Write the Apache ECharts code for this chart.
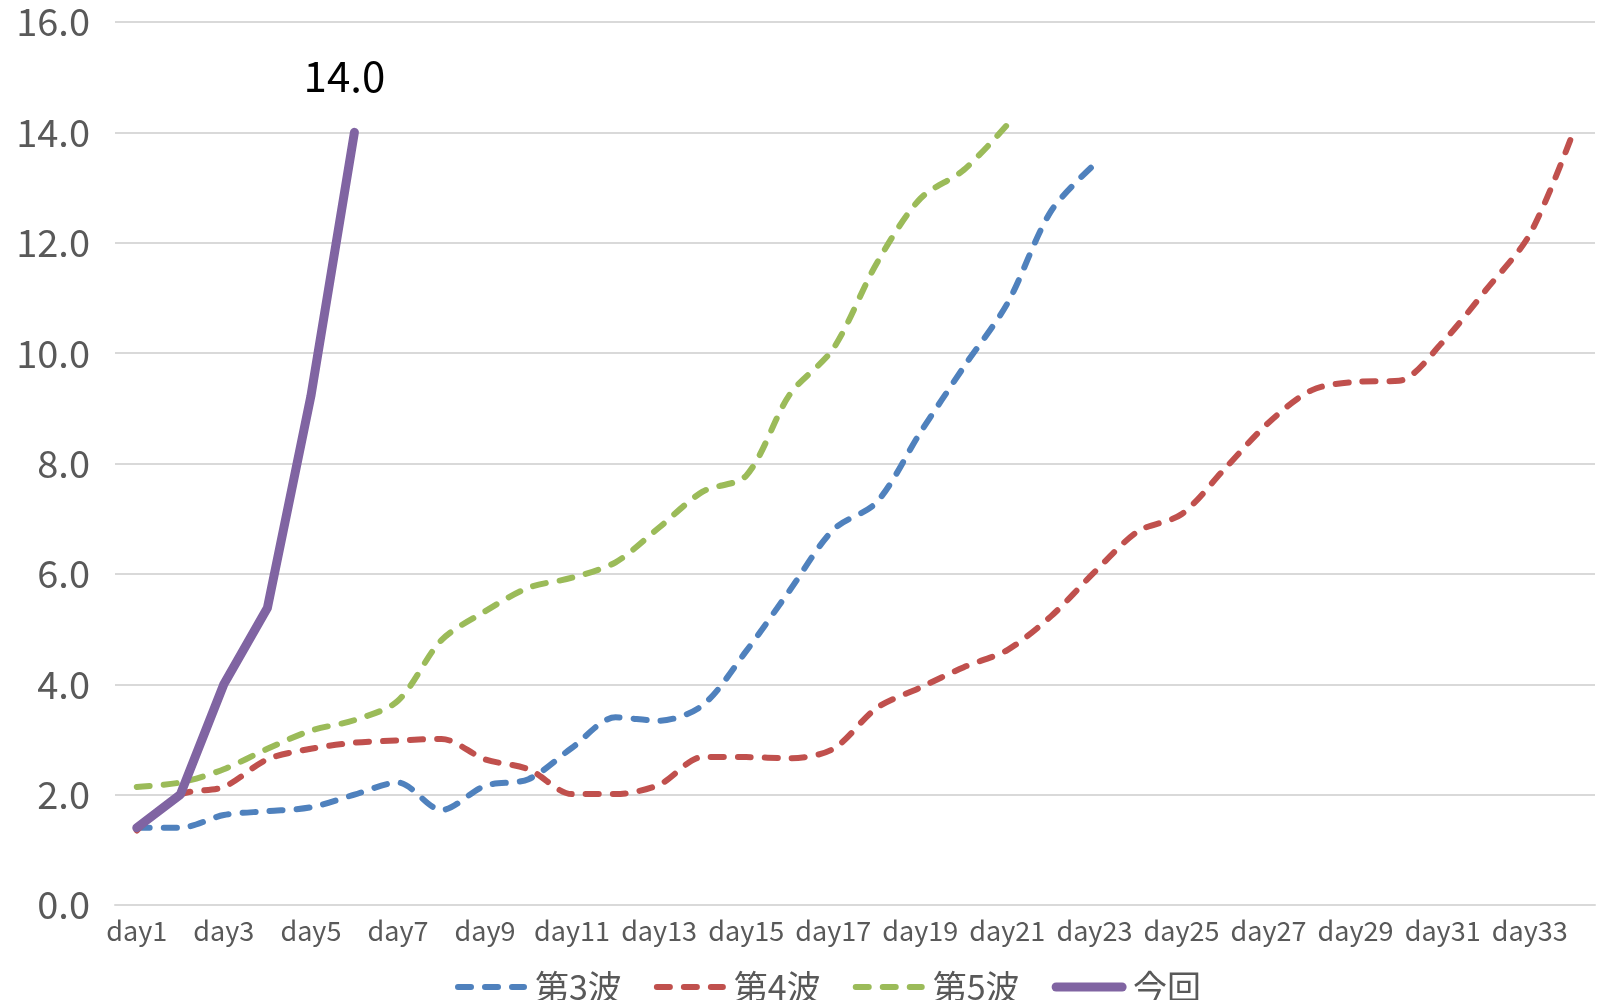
<!DOCTYPE html>
<html>
<head>
<meta charset="utf-8">
<script src="https://cdn.jsdelivr.net/npm/echarts@6/dist/echarts.min.js"></script>
<style>
  html, body { margin: 0; padding: 0; background: #fff; }
  #chart { width: 1597px; height: 1000px; }
</style>
</head>
<body>
<div id="chart"></div>
<script>
const days = []
for (let i = 1; i <= 34; i++) days.push('day' + i)

const wave3 = [1.4, 1.4, 1.63, 1.7, 1.77, 2.0, 2.22, 1.72, 2.16, 2.28, 2.85, 3.4, 3.34, 3.62, 4.6,
  5.7, 6.8, 7.3, 8.56, 9.75, 10.9, 12.57, 13.42]
const wave4 = [1.35, 2.0, 2.14, 2.64, 2.83, 2.94, 2.98, 3.01, 2.64, 2.46, 2.01, 2.01, 2.18, 2.68, 2.68,
  2.66, 2.83, 3.57, 3.94, 4.31, 4.62, 5.23, 6.03, 6.77, 7.08, 7.91, 8.74, 9.33, 9.48, 9.5,
  10.2, 11.15, 12.15, 14.0]
const wave5 = [2.14, 2.22, 2.46, 2.83, 3.16, 3.35, 3.7, 4.8, 5.32, 5.75, 5.93, 6.21, 6.84, 7.49, 7.78,
  9.25, 10.08, 11.63, 12.8, 13.32, 14.14]
const current = [1.4, 2.0, 4.0, 5.38, 9.22, 14.0]

const font = '"Noto Sans CJK JP", "Noto Sans", sans-serif'
const dash = { width: 6, type: [13, 14], cap: 'round', join: 'round' }

function dashed(name, color, values) {
  return {
    name: name,
    type: 'line',
    data: values,
    smooth: 0.3,
    symbol: 'none',
    color: color,
    lineStyle: Object.assign({ color: color }, dash)
  }
}

const chart = echarts.init(document.getElementById('chart'))

chart.setOption({
  backgroundColor: '#fff',
  animation: false,
  textStyle: { fontFamily: font },
  grid: { left: 115, right: 2, top: 22, bottom: 95 },
  legend: {
    left: 450,
    top: 965,
    itemWidth: 66,
    itemHeight: 14,
    itemGap: 32,
    itemStyle: { opacity: 0 },
    textStyle: { fontSize: 34, color: '#595959', fontFamily: font, padding: [0, 0, 0, 6] },
    data: [
      { name: '第3波', lineStyle: Object.assign({ color: '#4f81bd' }, dash) },
      { name: '第4波', lineStyle: Object.assign({ color: '#c0504d' }, dash) },
      { name: '第5波', lineStyle: Object.assign({ color: '#9bbb59' }, dash) },
      { name: '今回', lineStyle: { color: '#8064a2', width: 9, type: 'solid', cap: 'round' } }
    ]
  },
  xAxis: {
    type: 'category',
    data: days,
    axisLine: { lineStyle: { color: '#d9d9d9', width: 2 } },
    axisTick: { show: false },
    axisLabel: { interval: 1, fontSize: 27, color: '#595959', margin: 12 }
  },
  yAxis: {
    type: 'value',
    min: 0,
    max: 16,
    interval: 2,
    axisLine: { show: false },
    axisTick: { show: false },
    axisLabel: {
      fontSize: 38, color: '#595959', margin: 25,
      formatter: v => v.toFixed(1)
    },
    splitLine: { lineStyle: { color: '#d9d9d9', width: 2 } }
  },
  series: [
    dashed('第3波', '#4f81bd', wave3),
    dashed('第4波', '#c0504d', wave4),
    dashed('第5波', '#9bbb59', wave5),
    {
      name: '今回',
      type: 'line',
      data: current.map((v, i) => i === current.length - 1
        ? { value: v, symbol: 'circle', symbolSize: 2, label: { show: true } }
        : v),
      symbol: 'none',
      color: '#8064a2',
      lineStyle: { color: '#8064a2', width: 9, cap: 'round', join: 'round' },
      label: {
        show: false,
        position: 'top',
        distance: 34,
        offset: [-10, 0],
        fontSize: 42,
        color: '#000',
        formatter: p => p.value.toFixed(1)
      }
    }
  ]
})
</script>
</body>
</html>
